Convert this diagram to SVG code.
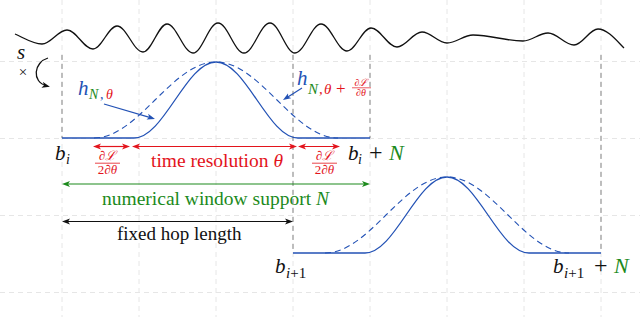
<svg xmlns="http://www.w3.org/2000/svg" width="640" height="317" viewBox="0 0 640 317">
<defs>
<style>
.grid{stroke:#e6e6e6;stroke-width:1;stroke-dasharray:5 4;fill:none}
.tick{stroke:#9a9a9a;stroke-width:1.2;stroke-dasharray:5 4;fill:none}
.win{stroke:#2352b5;stroke-width:1.3;fill:none}
.wind{stroke:#2352b5;stroke-width:1.1;fill:none;stroke-dasharray:6 4}
.t{font-family:"Liberation Serif","DejaVu Serif",serif}
.it{font-style:italic}
.red{fill:#e3141c}.grn{fill:#1c8a1c}.blu{fill:#2352b5}.blk{fill:#111}
.ar{stroke-width:1.2;fill:none}
</style>
<marker id="mr" markerUnits="userSpaceOnUse" markerWidth="9" markerHeight="7" refX="5" refY="3.5" orient="auto-start-reverse"><path d="M0,0.5 L8,3.5 L0,6.5 L2,3.5 z" fill="#e3141c"/></marker>
<marker id="mg" markerUnits="userSpaceOnUse" markerWidth="9" markerHeight="7" refX="5" refY="3.5" orient="auto-start-reverse"><path d="M0,0.5 L8,3.5 L0,6.5 L2,3.5 z" fill="#1c8a1c"/></marker>
<marker id="mk" markerUnits="userSpaceOnUse" markerWidth="9" markerHeight="7" refX="5" refY="3.5" orient="auto-start-reverse"><path d="M0,0.5 L8,3.5 L0,6.5 L2,3.5 z" fill="#111"/></marker>
<marker id="mb" markerUnits="userSpaceOnUse" markerWidth="9" markerHeight="7" refX="5" refY="3.5" orient="auto-start-reverse"><path d="M0,0.5 L8,3.5 L0,6.5 L2,3.5 z" fill="#2352b5"/></marker>
</defs>
<rect width="640" height="317" fill="#fff"/>
<g id="grid" class="grid">
<path d="M62,0V317M139,0V317M216,0V317M293,0V317M370,0V317M447,0V317M524,0V317M601,0V317"/>
<path d="M0,61.5H640M0,138.5H640M0,215.5H640M0,292.5H640"/>
</g>
<g id="ticks" class="tick">
<path d="M62,55V138M370,55V138M293,55V253M601,55V253"/>
</g>
<g id="signal">
<path fill="none" stroke="#111" stroke-width="1.3" d="M15,34 C24,38 33,44 42,44 C51.1,44 57.9,30 67,30 C76.5,30 83.5,49 93,49 C101.7,49 108.3,26 117,26 C126.5,26 133.5,52 143,52 C151.7,52 158.3,24 167,24 C176.5,24 183.5,53 193,53 C202.1,53 208.9,23 218,23 C227.5,23 234.5,53 244,53 C253.5,53 260.5,23 270,23 C279.1,23 285.9,53 295,53 C304.5,53 311.5,24 321,24 C330.5,24 337.5,51 347,51 C355.7,51 362.3,28 371,28 C380.5,28 387.5,47 397,47 C406.1,47 412.9,32 422,32 C431.1,32 437.9,43 447,43 C456.5,43 463.5,35 473,35 C491.2,35 504.8,41 523,41 C532.1,41 538.9,33 548,33 C557.5,33 564.5,45 574,45 C582.7,45 589.3,29 598,29 C607.5,29 617,41 624,48"/>
</g>
<g id="multiply">
<text class="t it blk" x="17" y="58.5" font-size="21">s</text>
<text class="t blk" x="23" y="77" font-size="15" text-anchor="middle">×</text>
<path d="M48,58 C34,62 31,82 47,86" fill="none" stroke="#111" stroke-width="1.3" marker-end="url(#mk)"/>
</g>
<g id="window1">
<path class="win" d="M62,138 H134 C163.9,138 186.1,62 216,62 C245.9,62 268.1,138 298,138 H370"/>
<path class="wind" d="M94,138 C138.4,138 171.6,62 216,62 C260.4,62 293.6,138 338,138"/>
</g>
<g id="window2">
<path class="win" d="M293,253 H365 C394.9,253 417.1,177 447,177 C476.9,177 499.1,253 529,253 H601"/>
<path class="wind" d="M325,253 C369.4,253 402.6,177 447,177 C491.4,177 524.6,253 569,253"/>
</g>
<g id="label-h1">
<text class="t it blu" x="78" y="95" font-size="21">h</text>
<text class="t it grn" x="89" y="99" font-size="14">N</text>
<text class="t blu" x="100" y="99" font-size="14">,</text>
<text class="t it red" x="106" y="99" font-size="14">θ</text>
</g>
<g id="label-h2">
<text class="t it blu" x="297" y="85" font-size="21">h</text>
<text class="t it grn" x="308" y="94" font-size="15">N</text>
<text class="t red" x="319" y="94" font-size="15">,</text>
<text class="t it red" x="324" y="94" font-size="15">θ</text>
<text class="t red" x="336" y="94" font-size="17">+</text>
<text class="t it red" x="361" y="85.5" font-size="10" text-anchor="middle">∂ℒ</text>
<path d="M352,87.8H371" stroke="#e3141c" stroke-width="0.7"/>
<text class="t it red" x="361" y="96" font-size="10" text-anchor="middle">∂θ</text>
</g>
<g id="connectors">
<path d="M104,104 L152.1,118.1" stroke="#2352b5" class="ar" marker-end="url(#mb)"/>
<path d="M302,88 L285.5,98.4" stroke="#2352b5" class="ar" marker-end="url(#mb)"/>
<path d="M96,146.5H127" stroke="#e3141c" class="ar" marker-start="url(#mr)" marker-end="url(#mr)"/>
<path d="M135,146.5H294" stroke="#e3141c" class="ar" marker-start="url(#mr)" marker-end="url(#mr)"/>
<path d="M301,146.5H337" stroke="#e3141c" class="ar" marker-start="url(#mr)" marker-end="url(#mr)"/>
<path d="M65,184H367" stroke="#1c8a1c" class="ar" marker-start="url(#mg)" marker-end="url(#mg)"/>
<path d="M65,221.5H290" stroke="#111" class="ar" marker-start="url(#mk)" marker-end="url(#mk)"/>
</g>
<g id="label-dl1">
<text class="t it red" x="107.5" y="160" font-size="13" text-anchor="middle">∂ℒ</text>
<path d="M95,163.2H120" stroke="#e3141c" stroke-width="0.8"/>
<text class="t it red" x="107.5" y="173.5" font-size="13" text-anchor="middle"><tspan font-style="normal">2</tspan>∂θ</text>
</g>
<g id="label-dl2">
<text class="t it red" x="324.5" y="160" font-size="13" text-anchor="middle">∂ℒ</text>
<path d="M312,163.2H337" stroke="#e3141c" stroke-width="0.8"/>
<text class="t it red" x="324.5" y="173.5" font-size="13" text-anchor="middle"><tspan font-style="normal">2</tspan>∂θ</text>
</g>
<g id="label-time">
<text class="t red" x="151" y="167" font-size="19.5">time resolution <tspan font-style="italic">θ</tspan></text>
</g>
<g id="label-support">
<text class="t grn" x="102" y="205" font-size="19.5">numerical window support <tspan font-style="italic">N</tspan></text>
</g>
<g id="label-hop">
<text class="t blk" x="117" y="240" font-size="19">fixed hop length</text>
</g>
<g id="label-bi">
<text class="t it blk" x="55" y="160" font-size="21">b</text>
<text class="t it blk" x="66" y="164" font-size="14">i</text>
</g>
<g id="label-biN">
<text class="t it blk" x="348" y="160" font-size="21">b</text>
<text class="t it blk" x="358" y="164" font-size="14">i</text>
<text class="t blk" x="369" y="160" font-size="24">+</text>
<text class="t it grn" x="389" y="160" font-size="22">N</text>
</g>
<g id="label-bi1">
<text class="t it blk" x="275" y="273" font-size="21">b</text>
<text class="t blk" x="286" y="278" font-size="15"><tspan font-style="italic">i</tspan>+1</text>
</g>
<g id="label-bi1N">
<text class="t it blk" x="553" y="273" font-size="21">b</text>
<text class="t blk" x="564" y="278" font-size="15"><tspan font-style="italic">i</tspan>+1</text>
<text class="t blk" x="594" y="273" font-size="24">+</text>
<text class="t it grn" x="614" y="273" font-size="22">N</text>
</g>
</svg>
